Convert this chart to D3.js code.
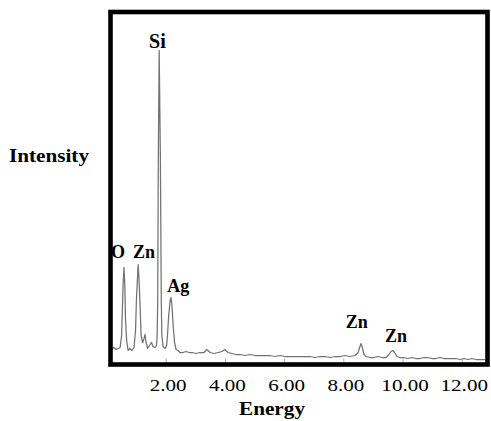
<!DOCTYPE html>
<html>
<head>
<meta charset="utf-8">
<script src="https://cdn.jsdelivr.net/npm/d3@7"></script>
<style>
  html, body { margin: 0; padding: 0; background: #fff; }
  svg { display: block; }
  text { font-family: "Liberation Serif", "Times New Roman", serif; fill: #000; }
</style>
</head>
<body>
<svg id="chart" width="491" height="421"></svg>
<script>
// ---- data ----
const energy = [0.19,0.25,0.32,0.39,0.46,0.51,0.53,0.56,0.59,0.62,0.64,0.68,0.73,0.79,0.86,0.93,
  0.98,1.01,1.05,1.07,1.10,1.14,1.17,1.22,1.27,1.30,1.34,1.39,1.45,1.52,1.57,1.64,1.69,1.71,
  1.73,1.75,1.78,1.82,1.85,1.87,1.91,1.98,2.03,2.06,2.10,2.15,2.18,2.21,2.26,2.30,2.35,2.42,
  2.48,2.58,2.69,2.79,2.89,3.02,3.16,3.29,3.39,3.50,3.63,3.77,3.90,4.00,4.10,4.24,4.37,4.51,
  4.68,4.85,5.02,5.19,5.35,5.52,5.69,5.86,6.03,6.20,6.37,6.54,6.71,6.87,7.04,7.21,7.38,7.55,
  7.72,7.89,8.06,8.23,8.40,8.50,8.56,8.60,8.64,8.70,8.77,8.90,9.04,9.17,9.31,9.44,9.54,9.61,
  9.67,9.73,9.81,9.91,10.05,10.18,10.32,10.45,10.59,10.72,10.86,10.99,11.13,11.27,11.40,11.54,
  11.67,11.81,11.94,12.08,12.21,12.35,12.48,12.62,12.79];
const intensity = [150,170,150,160,170,290,490,790,970,790,470,240,140,160,140,170,
  340,640,890,1000,840,540,290,220,260,300,220,160,190,220,180,170,190,290,
  640,2060,3140,2060,640,290,180,160,190,290,490,640,670,590,360,220,150,140,
  120,120,130,120,120,110,120,120,150,120,110,120,130,150,120,110,100,100,
  90,100,90,90,90,90,80,90,80,80,80,80,80,80,70,80,80,70,
  80,80,90,80,90,120,180,210,170,100,80,70,70,80,70,70,100,130,
  140,120,80,70,70,60,70,60,60,70,70,60,60,70,60,60,
  60,60,50,60,50,60,50,50,50];

const xTicks = [2, 4, 6, 8, 10, 12];
const xTickLabels = ["2.00", "4.00", "6.00", "8.00", "10.00", "12.00"];

const peakNames = ["O", "Zn", "Si", "Ag", "Zn", "Zn"];
const peakLabelEnergy = [0.39, 1.27, 1.72, 2.42, 8.45, 9.78];
const peakLabelIntensity = [1070, 1070, 3170, 730, 370, 230];

const xTitle = "Energy";
const yTitle = "Intensity";

// ---- drawing ----
const svg = d3.select("#chart");
const mLeft = 110.5, mRight = 487.5, mTop = 12, mBottom = 364.5;

const x = d3.scaleLinear().domain([0.135, 12.87]).range([mLeft, mRight]);
const y = d3.scaleLinear().domain([0, 3525]).range([mBottom, mTop]);

const pts = energy.map((e, i) => [e, intensity[i]]);

// spectrum line
svg.append("path")
  .datum(pts)
  .attr("fill", "none")
  .attr("stroke", "#727272")
  .attr("stroke-width", 1.25)
  .attr("stroke-linejoin", "round")
  .attr("d", d3.line().x(d => x(d[0])).y(d => y(d[1])));

// x axis (inward small ticks, labels below)
const axis = d3.axisBottom(x)
  .tickValues(xTicks)
  .tickFormat((d, i) => xTickLabels[i])
  .tickSizeInner(-6)
  .tickSizeOuter(0)
  .tickPadding(0);

const gx = svg.append("g").attr("transform", `translate(0,${mBottom})`).call(axis);
gx.select(".domain").remove();
gx.selectAll(".tick line").attr("stroke", "#aaa").attr("stroke-width", 1);
gx.selectAll(".tick text")
  .attr("y", 0).attr("dy", null)
  .attr("transform", "translate(2,26.5) scale(1.24,1)")
  .style("font-family", "'Liberation Serif', 'Times New Roman', serif")
  .style("font-size", "17px")
  .attr("fill", "#000");

// peak labels (drawn under the frame, so the border hides part of "O")
svg.append("g").selectAll("text")
  .data(peakNames)
  .join("text")
  .attr("x", (d, i) => x(peakLabelEnergy[i]))
  .attr("y", (d, i) => y(peakLabelIntensity[i]))
  .attr("text-anchor", "middle")
  .style("font-weight", "bold")
  .style("font-size", (d) => d === "Si" ? "20px" : "18px")
  .text(d => d);

// frame
svg.append("rect")
  .attr("x", mLeft).attr("y", mTop)
  .attr("width", mRight - mLeft).attr("height", mBottom - mTop)
  .attr("fill", "none").attr("stroke", "#000").attr("stroke-width", 4.6);

// axis titles
svg.append("text")
  .attr("x", 239).attr("y", 415)
  .attr("textLength", 66).attr("lengthAdjust", "spacingAndGlyphs")
  .style("font-weight", "bold").style("font-size", "18px")
  .text(xTitle);

svg.append("text")
  .attr("x", 9).attr("y", 161.5)
  .attr("textLength", 80).attr("lengthAdjust", "spacingAndGlyphs")
  .style("font-weight", "bold").style("font-size", "18.5px")
  .text(yTitle);
</script>
</body>
</html>
